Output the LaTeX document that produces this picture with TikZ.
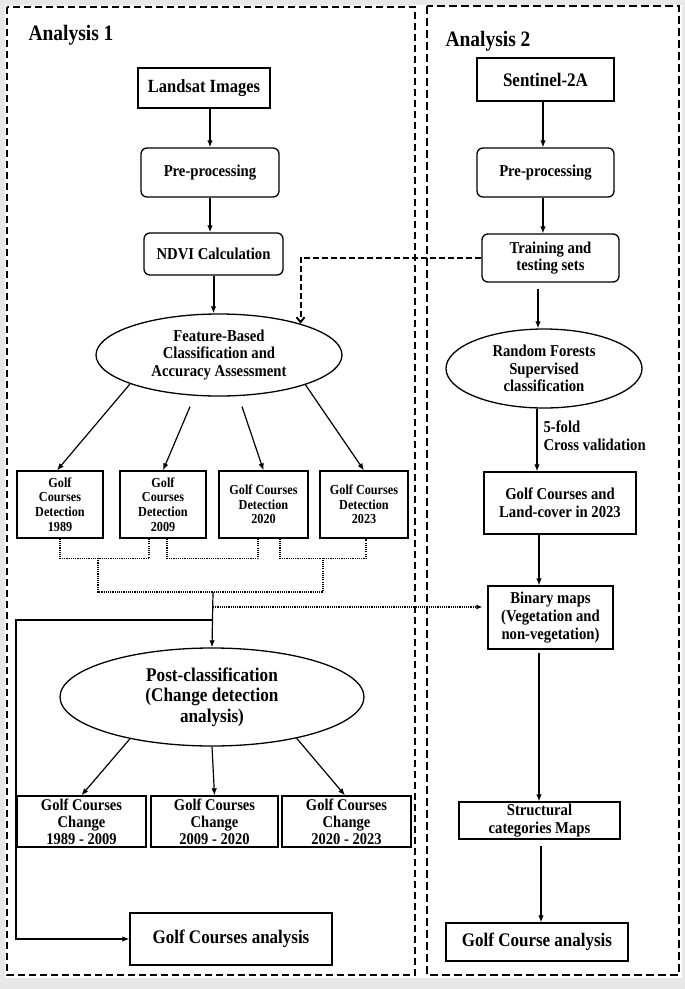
\documentclass[tikz,border=0pt]{standalone}
\usepackage{fontspec}
\setmainfont{Liberation Serif}[FakeStretch=0.885]
\usetikzlibrary{shapes.geometric,arrows.meta,calc}
\begin{document}
\begin{tikzpicture}[x=1pt,y=-1pt,
  sz/.style 2 args={minimum width=#1pt,minimum height=#2pt},
  fA/.style={font=\bfseries\fontsize{16.6}{17.6}\selectfont},
  gbox/.style={draw,line width=1.3pt,align=center,inner sep=1pt,fA},
  rbx/.style={gbox,rounded corners=6pt},
  el/.style={draw,line width=1.3pt,ellipse,align=center,inner sep=0pt,fA},
  arr/.style={-{Latex[length=7pt,width=5.5pt]},line width=1.2pt},
  tarr/.style={arr,line width=2pt},
  dotl/.style={line width=1.1pt,dash pattern=on 1.1pt off 1.1pt},
  dotarr/.style={dotl,-{Latex[length=6pt,width=5pt]}},
  dasharr/.style={line width=1.9pt,dash pattern=on 6pt off 3pt,-{Straight Barb[length=5pt,width=8pt]}},
  ttl/.style={anchor=base west,font=\bfseries\fontsize{22}{24}\selectfont}
]
% background
\fill[black!9] (0,0) rectangle (685,989);
\fill[white] (5,5) rectangle (682,978);
\draw[line width=1.8pt,dash pattern=on 7pt off 4pt] (7,7) rectangle (415,975);
\draw[line width=2.8pt,dash pattern=on 8pt off 4pt] (427,6) rectangle (679,975);

\node[ttl] (t1) at (25,40) {Analysis 1};
\node[ttl] (t2) at (442,46) {Analysis 2};

% ---------- left column
\node[gbox,sz={132}{40},line width=1.6pt,font=\bfseries\fontsize{18.6}{19}\selectfont] (landsat) at (204,88) {Landsat Images};
\node[rbx,sz={138}{49}] (pre1) at (210,172.5) {Pre-processing};
\node[rbx,sz={139}{42}] (ndvi) at (213.5,254) {NDVI Calculation};
\node[el,sz={246}{82}] (feat) at (219,355) {Feature-Based\\Classification and\\Accuracy Assessment};

\draw[tarr] (pre1.north |- landsat.south) -- (pre1.north);
\draw[tarr] (pre1.south) -- (pre1.south |- ndvi.north);
\draw[tarr] (ndvi.south) -- (ndvi.south |- feat.north);

\tikzset{fD/.style={gbox,sz={#1}{67},font=\bfseries\fontsize{13.8}{14.6}\selectfont}}
\node[fD=86] (d1) at (60,504.5) {Golf\\Courses\\Detection\\1989};
\node[fD=86] (d2) at (163,504.5) {Golf\\Courses\\Detection\\2009};
\node[fD=89] (d3) at (263.5,504.5) {Golf Courses\\Detection\\2020};
\node[fD=88] (d4) at (364,504.5) {Golf Courses\\Detection\\2023};

\coordinate (f2) at ($(feat.south)+(-29,10)$);
\coordinate (f3) at ($(feat.south)+(23,10)$);
\draw[arr] (feat.198.6) -- ([xshift=-3pt]d1.north);
\draw[arr] (f2) -- (d2.north);
\draw[arr] (f3) -- (d3.north);
\draw[arr] (feat.341.4) -- (d4.north);

% dotted joins
\draw[dotl] (d1.south) -- ++(0,20) -| ([xshift=-14pt]d2.south);
\draw[dotl] ([xshift=4pt]d2.south) -- ++(0,20) -| ([xshift=-5.5pt]d3.south);
\draw[dotl] ([xshift=16.5pt]d3.south) -- ++(0,20) -| ([xshift=2pt]d4.south);
\coordinate (m1) at (98,558);
\coordinate (m3) at (323,558);
\coordinate (hub) at (213,592);
\draw[dotl] (m1) |- (hub) -| (m3);

\node[el,sz={304}{98},font=\bfseries\fontsize{19.4}{20.7}\selectfont] (post) at (212,697) {Post-classification\\(Change detection\\analysis)};
\draw[arr] (hub) -- (post.north);

\tikzset{fC/.style={gbox,sz={#1}{51},inner sep=0pt,font=\bfseries\fontsize{16.4}{17}\selectfont}}
\node[fC=129] (c1) at (81.5,821.5) {Golf Courses\\Change\\1989 - 2009};
\node[fC=127] (c2) at (214.5,821.5) {Golf Courses\\Change\\2009 - 2020};
\node[fC=129] (c3) at (346.5,821.5) {Golf Courses\\Change\\2020 - 2023};
\draw[arr] (post.207.1) -- (c1.north);
\draw[arr] (post.south) -- (c2.north);
\draw[arr] (post.334) -- ([xshift=-1.5pt]c3.north);

\node[gbox,sz={202}{52},font=\bfseries\fontsize{19.2}{20}\selectfont] (gca1) at (231,939) {Golf Courses analysis};

% ---------- right column
\node[gbox,sz={137}{43},font=\bfseries\fontsize{19.2}{20}\selectfont] (sent) at (545.5,79.5) {Sentinel-2A};
\node[rbx,sz={137}{49}] (pre2) at (545.5,172.5) {Pre-processing};
\node[rbx,sz={137}{48}] (train) at (550.5,258) {Training and\\testing sets};
\node[el,sz={196}{79}] (rf) at (544,368.5) {Random Forests\\Supervised\\classification};
\node[gbox,sz={152}{62}] (gcl) at (560,503) {Golf Courses and\\Land-cover in 2023};
\node[gbox,sz={125}{63}] (bin) at (550.5,617.5) {Binary maps\\(Vegetation and\\non-vegetation)};
\node[gbox,sz={161}{37},inner sep=0pt] (struct) at (539.5,820.5) {Structural\\categories Maps};
\node[gbox,sz={182}{38},font=\bfseries\fontsize{19.2}{20}\selectfont] (gca2) at (537,942) {Golf Course analysis};

\coordinate (xa) at (543,0);
\coordinate (xb) at (538,0);
\coordinate (xc) at (537,0);
\coordinate (xd) at (539,0);
\coordinate (xe) at (541,0);
\draw[arr] (sent.south -| xa) -- (pre2.north -| xa);
\draw[arr] (pre2.south -| xa) -- (train.north -| xa);
\draw[arr] ([yshift=-6pt]train.south -| xb) -- (rf.north -| xb);
\draw[arr] (rf.south -| xc) -- (gcl.north -| xc);
\node[anchor=west,align=left,fA] (cv) at (540,436) {5-fold\\Cross validation};
\draw[arr] (gcl.south -| xd) -- (bin.north -| xd);
\draw[arr] ([yshift=-3pt]bin.south -| xd) -- (struct.north -| xd);
\draw[arr] ([yshift=-6pt]struct.south -| xe) -- (gca2.north -| xe);

% ---------- cross links
\draw[dasharr] (train.west) -| (feat.21);
\coordinate (h2) at (213,607);
\draw[dotarr,shorten >=5pt] (h2) -- (bin.west |- h2);
\coordinate (h3) at (213,620);
\coordinate (lc) at (16,620);
\draw[arr] (h3) -- (lc) |- (gca1.west);
\end{tikzpicture}
\end{document}
